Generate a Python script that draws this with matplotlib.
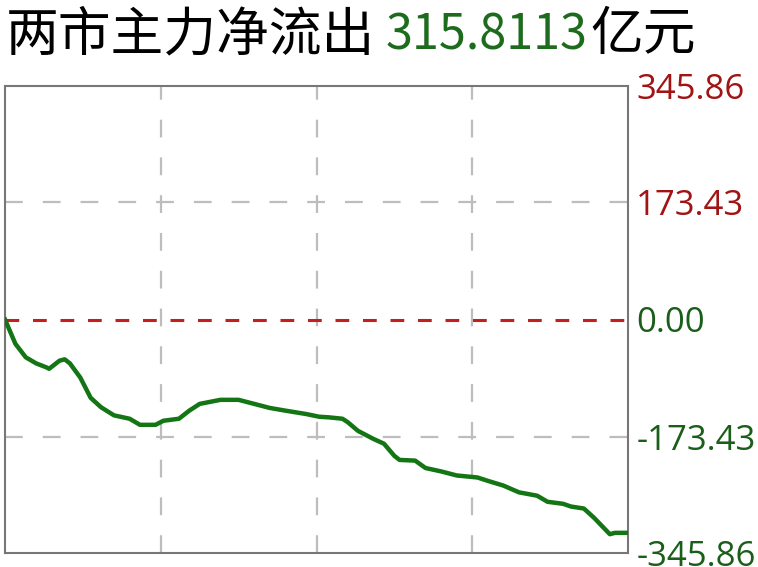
import numpy as np
import matplotlib.pyplot as plt

# 分钟序号 (0-240) 和 主力净流入 (亿元)
minutes = [0, 4, 8, 12, 16, 17, 21, 23, 25, 29, 33, 37, 42, 48, 52, 58, 61, 67, 71, 75,
           83, 90, 96, 102, 108, 116, 121, 125, 130, 132, 136, 142, 146, 150, 152, 158,
           162, 168, 174, 182, 186, 192, 198, 205, 209, 215, 218, 223, 227, 230, 233,
           235, 240]
flow = [0, -36, -56, -65, -71, -73, -61, -59, -65, -86, -116, -130, -142, -147, -156,
        -156, -150, -147, -135, -125, -119, -119, -125, -131, -135, -140, -144, -145,
        -147, -152, -165, -177, -184, -202, -208, -209, -220, -225, -231, -234, -239,
        -246, -256, -261, -270, -273, -277, -280, -294, -306, -318, -316, -316]

ymax = 345.86
tick_vals = [-345.86, -173.43, 0.0, 173.43, 345.86]
tick_labels = ["-345.86", "-173.43", "0.00", "173.43", "345.86"]
tick_colors = ["#1a5e1a", "#1a5e1a", "#1a5e1a", "#a01414", "#a01414"]

title_left = "两市主力净流出"
title_num = "315.8113"
title_right = "亿元"

plt.rcParams['font.family'] = ['Noto Sans CJK SC', 'DejaVu Sans']

fig = plt.figure(figsize=(7.58, 5.67), dpi=100)
ax = fig.add_axes([5/758, 14/567, 623/758, 467/567])

# 网格
for x in [60, 120, 180]:
    ax.axvline(x, color="#bdbdbd", lw=1.6, dashes=(8, 9), zorder=1)
for y in [-173.43, 173.43]:
    ax.axhline(y, color="#bdbdbd", lw=1.6, dashes=(8, 9), zorder=1)
ax.axhline(0, color="#c41e1e", lw=2.2, dashes=(4.5, 4.5), zorder=2)

ax.plot(minutes, flow, color="#137513", lw=3.2, zorder=3)

ax.set_xlim(0, 240)
ax.set_ylim(-ymax, ymax)
ax.set_xticks([])
ax.yaxis.tick_right()
ax.set_yticks(tick_vals)
ax.set_yticklabels(tick_labels, family="Open Sans", fontsize=25)
for lab, c in zip(ax.get_yticklabels(), tick_colors):
    lab.set_color(c)
ax.tick_params(axis="y", length=0, pad=6)
for s in ax.spines.values():
    s.set_color("#777777")
    s.set_linewidth(1.5)

# 标题 (分三段上色)
fig.canvas.draw()
r = fig.canvas.get_renderer()
base = 1 - 50/567
t1 = fig.text(6/758, base, title_left, fontsize=38, color="black",
              family="Noto Sans CJK SC", va="baseline")
bb = t1.get_window_extent(r)
t2 = fig.text((bb.x1 + 10) / 758, base, title_num, fontsize=35, color="#1d6b1d",
              family="Noto Sans CJK SC", va="baseline")
bb = t2.get_window_extent(r)
fig.text((bb.x1 + 3) / 758, base, title_right, fontsize=38, color="black",
         family="Noto Sans CJK SC", va="baseline")

fig.savefig("out.png", dpi=100)
